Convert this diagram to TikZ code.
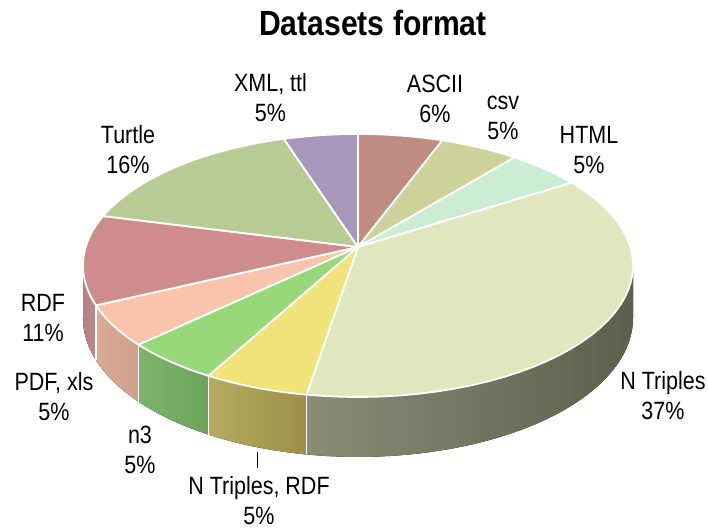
\documentclass[tikz,border=0pt]{standalone}
\usepackage{fontspec}
\setmainfont{Liberation Sans}[FakeStretch=0.86]
\definecolor{cASCII}{HTML}{C08C82}
\definecolor{ccsv}{HTML}{CCD29A}
\definecolor{cHTML}{HTML}{CBEDD3}
\definecolor{cNT}{HTML}{E0E6BE}
\definecolor{cNTR}{HTML}{F0E37A}
\definecolor{cnthree}{HTML}{97D87A}
\definecolor{cPDF}{HTML}{F9C4AB}
\definecolor{cRDF}{HTML}{CE8C8C}
\definecolor{cTurtle}{HTML}{B9CB95}
\definecolor{cXML}{HTML}{A697BB}
\definecolor{sNTl}{HTML}{8A8D75}
\definecolor{sNTm}{HTML}{5E624E}
\definecolor{sNTr}{HTML}{5C604C}
\definecolor{sNTRl}{HTML}{B5AB60}
\definecolor{sNTRr}{HTML}{9D8F48}
\definecolor{snthreel}{HTML}{7DB46B}
\definecolor{snthreer}{HTML}{6DA35A}
\definecolor{sPDFl}{HTML}{D9AA96}
\definecolor{sPDFr}{HTML}{CF9F88}
\definecolor{sRDFl}{HTML}{B48282}
\definecolor{sRDFr}{HTML}{BC8A8A}
\newcommand{\pieside}[4]{%
  \fill[left color=#3,right color=#4]
    plot[domain=#1:#2,samples=40,variable=\a] ({px(\a)},{py(\a)})
    -- plot[domain=#2:#1,samples=40,variable=\a] ({px(\a)},{pz(\a)}) -- cycle;}
\newcommand{\pietop}[3]{%
  \filldraw[topslice,fill=#3] (358,247)
    -- plot[domain=#1:#2,samples=40,variable=\a] ({px(\a)},{py(\a)}) -- cycle;}
\newcommand{\piesep}[1]{%
  \draw[sepline] ({px(#1)},{py(#1)}) -- ({px(#1)},{pz(#1)});}
\begin{document}
\begin{tikzpicture}[x=1pt,y=-1pt,
  declare function={ww(\a)=1-0.1407*sin(\a);
    px(\a)=358+272.3*cos(\a)/ww(\a);
    py(\a)=247+128.9*sin(\a)/ww(\a);
    pz(\a)=py(\a)+51.5/ww(\a);},
  lbl/.style={align=center,font=\fontsize{25}{30}\selectfont,inner sep=0pt},
  topslice/.style={draw=white,line width=1.8pt,line join=round},
  sepline/.style={draw=white,line width=1.5pt}]
\useasboundingbox (0,0) rectangle (708,530);
\fill[white] (0,0) rectangle (708,530);
% side faces
\fill[left color=sNTl,middle color=sNTm,right color=sNTr]
  plot[domain=8.09:99.36,samples=50,variable=\a] ({px(\a)},{py(\a)})
  -- plot[domain=99.36:8.09,samples=50,variable=\a] ({px(\a)},{pz(\a)}) -- cycle;
\pieside{99.36}{118.8}{sNTRl}{sNTRr}
\pieside{118.8}{136.8}{snthreel}{snthreer}
\pieside{136.8}{154.8}{sPDFl}{sPDFr}
\pieside{154.8}{171.91}{sRDFl}{sRDFr}
\piesep{99.36}
\piesep{118.8}
\piesep{136.8}
\piesep{154.8}
% top faces
\pietop{-90}{-69.48}{cASCII}
\pietop{-69.48}{-50.4}{ccsv}
\pietop{-50.4}{-32.4}{cHTML}
\pietop{-32.4}{99.36}{cNT}
\pietop{99.36}{118.8}{cNTR}
\pietop{118.8}{136.8}{cnthree}
\pietop{136.8}{154.8}{cPDF}
\pietop{154.8}{194.4}{cRDF}
\pietop{194.4}{252}{cTurtle}
\pietop{252}{270}{cXML}
% title
\node[font=\fontsize{35}{42}\selectfont\bfseries,anchor=base,inner sep=0pt] (title) at (373,35) {Datasets format};
% labels
\node[lbl] (lXML) at (270.5,97.5) {XML, ttl\\5\%};
\node[lbl] (lASCII) at (435,98.5) {ASCII\\6\%};
\node[lbl] (lcsv) at (503,117.5) {csv\\5\%};
\node[lbl] (lHTML) at (589,150) {HTML\\5\%};
\node[lbl] (lNT) at (663,396) {N Triples\\37\%};
\node[lbl] (lNTR) at (259,501) {N Triples, RDF\\5\%};
\node[lbl] (lnthree) at (140,450) {n3\\5\%};
\node[lbl] (lPDF) at (54,396.5) {PDF, xls\\5\%};
\node[lbl] (lRDF) at (43,317.5) {RDF\\11\%};
\node[lbl] (lTurtle) at (128,150) {Turtle\\16\%};
% leader line
\coordinate (tickTop) at (257.5,452);
\coordinate (tickBot) at (257.5,468);
\draw[line width=1pt] (tickTop) -- (tickBot);
\end{tikzpicture}
\end{document}
